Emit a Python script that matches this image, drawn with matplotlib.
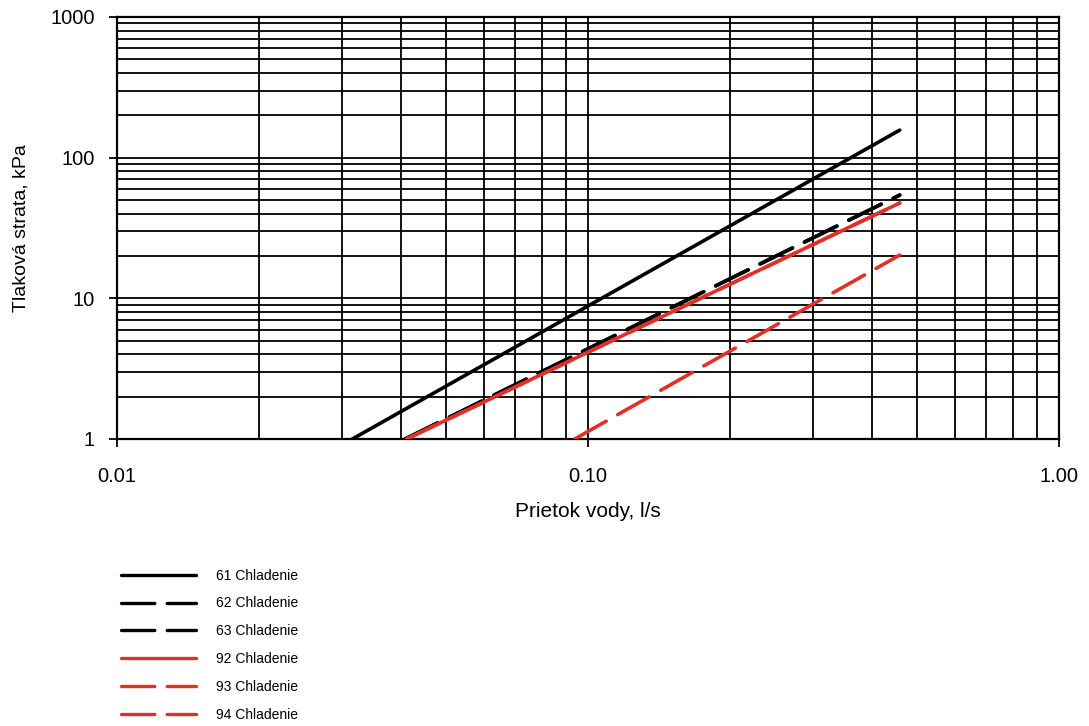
import matplotlib
matplotlib.use("Agg")
import matplotlib.pyplot as plt
from matplotlib.ticker import FixedLocator, NullFormatter, LogLocator

plt.rcParams['font.family'] = ['Liberation Sans', 'DejaVu Sans']

# flow (l/s) start/end points, pressure drop (kPa)
labels = ["61 Chladenie", "62 Chladenie", "63 Chladenie",
          "92 Chladenie", "93 Chladenie", "94 Chladenie"]
flow = [[0.0316, 0.459], [0.0409, 0.459], [0.0409, 0.459],
        [0.0412, 0.459], [0.0412, 0.459], [0.0937, 0.459]]
drop = [[1.0, 157.0], [1.0, 54.2], [1.0, 54.2],
        [1.0, 47.6], [1.0, 47.6], [1.0, 20.3]]

black = "#000000"
red = "#e03127"
dash = (0, (10, 3.7))
colors = [black, black, black, red, red, red]
styles = ["-", dash, dash, "-", dash, dash]

xticks = [0.01, 0.1, 1.0]
xticklabels = ["0.01", "0.10", "1.00"]
yticks = [1, 10, 100, 1000]
yticklabels = ["1", "10", "100", "1000"]

fig = plt.figure(figsize=(10.89, 7.26), dpi=100)
ax = fig.add_axes([117 / 1089, 1 - 439 / 726, 942 / 1089, 422 / 726])
ax.set_xscale("log")
ax.set_yscale("log")
ax.set_xlim(0.01, 1.0)
ax.set_ylim(1, 1000)

handles = []
for i in range(len(labels)):
    h, = ax.plot(flow[i], drop[i], color=colors[i], linestyle=styles[i],
                 linewidth=2.6, solid_capstyle="round", dash_capstyle="round",
                 label=labels[i], zorder=3 + (1 if styles[i] == "-" else 0))
    handles.append(h)

ax.xaxis.set_major_locator(FixedLocator(xticks))
ax.set_xticklabels(xticklabels)
ax.yaxis.set_major_locator(FixedLocator(yticks))
ax.set_yticklabels(yticklabels)
ax.xaxis.set_minor_locator(LogLocator(base=10, subs=range(2, 10)))
ax.yaxis.set_minor_locator(LogLocator(base=10, subs=range(2, 10)))
ax.xaxis.set_minor_formatter(NullFormatter())
ax.yaxis.set_minor_formatter(NullFormatter())

ax.grid(True, which="both", color="black", linewidth=1.3)
ax.tick_params(which="major", length=6, width=1.3, labelsize=14.5)
ax.tick_params(axis="x", which="major", pad=14)
ax.tick_params(axis="y", which="major", pad=10)
ax.tick_params(which="minor", length=0)
for s in ax.spines.values():
    s.set_linewidth(1.6)

ax.set_xlabel("Prietok vody, l/s", fontsize=15, labelpad=12)
ax.set_ylabel("Tlaková strata, kPa", fontsize=14, labelpad=15)

leg = fig.legend(handles, labels, loc="upper left",
                 bbox_to_anchor=(108 / 1089, 1 - 556 / 726),
                 frameon=False, fontsize=10, handlelength=5.4,
                 handletextpad=1.5, labelspacing=1.0)
for line in leg.get_lines():
    line.set_linewidth(2.4)

fig.savefig("out.png", dpi=100)
